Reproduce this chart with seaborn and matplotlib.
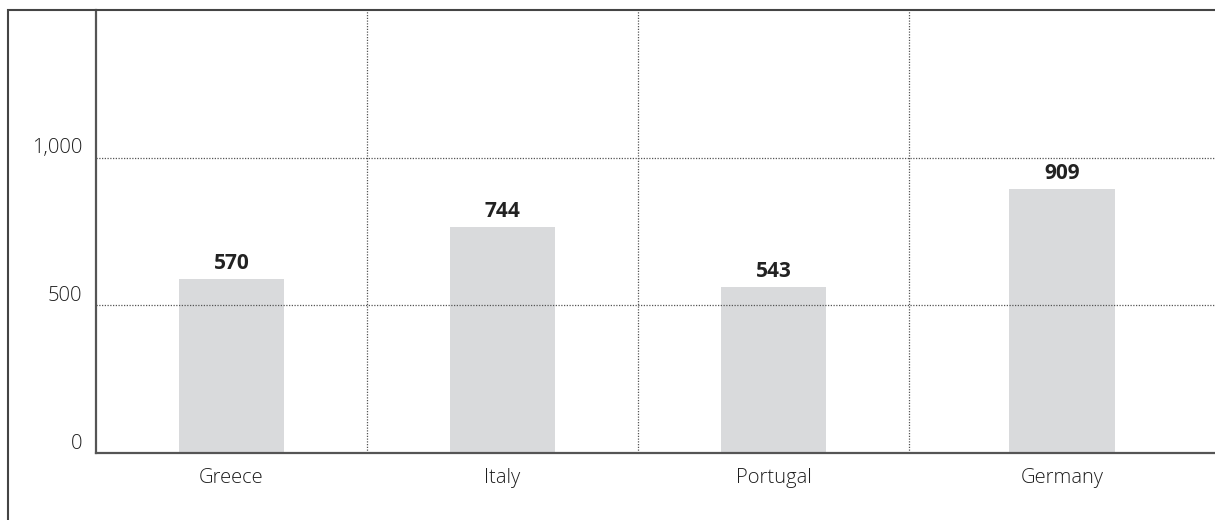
import matplotlib
matplotlib.use("Agg")
import matplotlib.pyplot as plt
from matplotlib.patches import Rectangle
from matplotlib.transforms import ScaledTranslation
import seaborn as sns
import pandas as pd
import numpy as np

# Data
countries = ["Greece", "Italy", "Portugal", "Germany"]
bar_heights = [589, 766, 562, 894]          # bar heights as drawn
value_labels = ["570", "744", "543", "909"]  # printed labels
y_ticks = [0, 500, 1000]
y_tick_labels = ["0", "500", "1,000"]

sns.set_theme(style="white")
plt.rcParams["font.family"] = ["Open Sans", "DejaVu Sans"]

W, H = 1215, 520
fig = plt.figure(figsize=(W / 100, H / 100), dpi=100)
ax = fig.add_axes([96 / W, 1 - 452.7 / H, 1 - 96 / W, (452.7 - 10) / H])

# layout: cells of unit width, last cell runs to the right edge
x_max = (W - 96) / 271.0 - 0.5
edges = [-0.5, 0.5, 1.5, 2.5, x_max]
centers = [(edges[i] + edges[i + 1]) / 2 for i in range(len(countries))]

df = pd.DataFrame({"pos": centers, "value": bar_heights, "country": countries})
sns.barplot(data=df, x="pos", y="value", native_scale=True, width=0.39,
            color="#d9dadc", saturation=1, ax=ax, edgecolor="none", zorder=1)

ax.set_xlim(-0.5, x_max)
ax.set_ylim(0, 1500)
ax.set_xticks(centers)
ax.set_xticklabels(countries)
ax.set_yticks(y_ticks)
ax.set_yticklabels(y_tick_labels)
ax.set_xticks(edges[1:4], minor=True)
ax.set_xlabel("")
ax.set_ylabel("")

ax.tick_params(axis="both", which="both", length=0, labelsize=14.5, labelcolor="#1e1e1e")
ax.tick_params(axis="y", pad=10)
ax.tick_params(axis="x", pad=11)
offset = ScaledTranslation(0, 3 / 72, fig.dpi_scale_trans)
for lab in ax.get_yticklabels():
    lab.set_va("baseline")
    lab.set_fontweight("light")
    lab.set_transform(lab.get_transform() + offset)
for lab in ax.get_xticklabels():
    lab.set_fontweight("light")

ax.set_axisbelow(False)
ax.grid(False)
ax.grid(True, which="major", axis="y", color="#555555", linestyle=(0, (1, 1.2)), linewidth=0.9)
ax.grid(True, which="minor", axis="x", color="#555555", linestyle=(0, (1, 1.2)), linewidth=0.9)

for s in ["top", "right"]:
    ax.spines[s].set_visible(False)
for s in ["left", "bottom"]:
    ax.spines[s].set_color("#555555")
    ax.spines[s].set_linewidth(1.6)
    ax.spines[s].set_zorder(3)

for c, h, lab in zip(centers, bar_heights, value_labels):
    ax.annotate(lab, xy=(c, h), xytext=(0, 11), textcoords="offset points",
                ha="center", va="center", fontsize=15, fontweight="bold",
                color="#222222", zorder=4)

fig.add_artist(Rectangle((7.5 / W, -0.5), 2, 0.5 + 1 - 9.5 / H,
                         transform=fig.transFigure, fill=False,
                         linewidth=1.5, edgecolor="#444444"))

fig.savefig("out.png", dpi=100)
